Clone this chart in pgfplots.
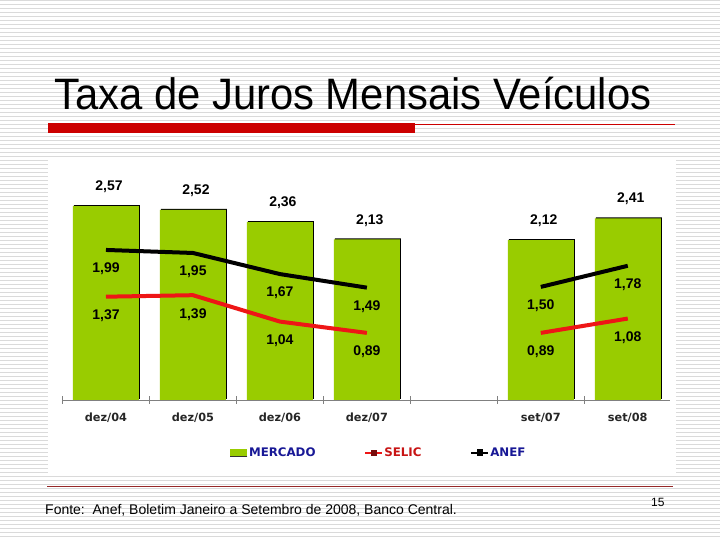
\documentclass[border=0pt]{standalone}
\usepackage{fontspec}
\setmainfont{Liberation Sans}
\newfontfamily\djv{DejaVu Sans}
\usepackage{pgfplots}
\pgfplotsset{compat=1.18}

\definecolor{stripe}{RGB}{218,218,218}
\definecolor{barg}{RGB}{153,204,0}
\definecolor{selic}{RGB}{238,22,22}
\definecolor{titlered}{RGB}{204,0,0}
\definecolor{rule}{RGB}{150,40,40}
\definecolor{legblue}{RGB}{24,24,150}
\definecolor{legred}{RGB}{200,20,20}
\definecolor{axgray}{RGB}{128,128,128}

\newcommand\lab{\fontsize{14}{15}\selectfont\bfseries}

\begin{document}
\begin{tikzpicture}
\useasboundingbox (0pt,0pt) rectangle (720pt,540pt);
\clip (0pt,0pt) rectangle (720pt,540pt);
% slide background
\fill[white] (0pt,0pt) rectangle (720pt,540pt);
\foreach \k in {0,...,134}
  \draw[stripe, line width=1pt] (0pt,539.5pt-4pt*\k) -- (720pt,539.5pt-4pt*\k);
\fill[white] (48pt,64pt) rectangle (676pt,383pt);

% title and rules
\node[anchor=base west, inner sep=0pt, xscale=0.95] at (54pt,430pt)
  {\fontsize{44}{50}\selectfont Taxa de Juros Mensais Veículos};
\fill[titlered] (48pt,407pt) rectangle (415pt,417pt);
\draw[titlered, line width=0.8pt] (415pt,416pt) -- (675pt,416pt);
\draw[rule, line width=0.8pt] (47pt,53.5pt) -- (673pt,53.5pt);
\node[anchor=base west, inner sep=0pt] at (45pt,25pt)
  {\fontsize{14}{16}\selectfont Fonte:\ \ Anef, Boletim Janeiro a Setembro de 2008, Banco Central.};
\node[anchor=base west, inner sep=0pt] at (651pt,33pt) {\fontsize{12}{14}\selectfont 15};

\begin{axis}[
    at={(62.5pt,140pt)}, anchor=south west,
    scale only axis, width=607pt, height=226.2pt,
    xmin=-0.5, xmax=6.48, ymin=0, ymax=3,
    axis x line*=bottom, axis y line=none,
    axis line style={axgray, line width=0.8pt},
    xtick={0,1,2,3,5,6},
    xticklabels={dez/04,dez/05,dez/06,dez/07,set/07,set/08},
    minor xtick={-0.5,0.5,1.5,2.5,3.5,4.5,5.5},
    major tick length=0pt, minor tick length=8pt,
    tick align=center,
    minor tick style={axgray, line width=0.8pt},
    xticklabel style={font=\djv\bfseries\fontsize{11.3}{13}\selectfont, text=black!85,
        anchor=base, inner sep=0pt, yshift=-22pt},
    clip=false,
    unbounded coords=jump,
    legend style={at={(0.52,-0.234)}, anchor=center, draw=none, fill=none,
        font=\djv\bfseries\fontsize{11.8}{13}\selectfont,
        /tikz/every even column/.append style={column sep=48pt},
        nodes={inner sep=1pt}},
    legend columns=-1,
]
% shadow of the bars
\addplot[ybar, bar width=66pt, bar shift=1pt, fill=black, draw=none, yshift=1pt, forget plot]
  coordinates {(0,2.57) (1,2.52) (2,2.36) (3,2.13) (5,2.12) (6,2.41)};
% MERCADO
\addplot[ybar, bar width=66pt, bar shift=0pt, fill=barg, draw=none,
    point meta=explicit symbolic, nodes near coords,
    every node near coord/.append style={font=\lab, inner sep=0pt, yshift=13pt, xshift=3pt},
    legend image code/.code={\fill[barg] (0pt,-3.5pt) rectangle (17pt,3.5pt);
      \draw[black!80, line width=1.2pt] (0pt,-3.2pt) -- (17pt,-3.2pt);}]
  coordinates {(0,2.57)[2,57] (1,2.52)[2,52] (2,2.36)[2,36] (3,2.13)[2,13] (5,2.12)[2,12] (6,2.41)[2,41]};
\addlegendentry{\textcolor{legblue}{MERCADO}}
% SELIC
\addplot[selic, line width=4pt, mark=none,
    point meta=explicit symbolic, nodes near coords,
    every node near coord/.append style={font=\lab, text=black, inner sep=0pt, yshift=-27pt},
    legend image code/.code={\draw[selic, line width=1.8pt] (0pt,0pt) -- (17pt,0pt);
      \fill[legred!60!black] (7.5pt,-1.2pt) rectangle (9.5pt,1.2pt);}]
  coordinates {(0,1.37)[1,37] (1,1.39)[1,39] (2,1.04)[1,04] (3,0.89)[0,89] (4,nan)[] (5,0.89)[0,89] (6,1.08)[1,08]};
\addlegendentry{\textcolor{legred}{SELIC}}
% ANEF
\addplot[black, line width=4pt, mark=none,
    point meta=explicit symbolic, nodes near coords,
    every node near coord/.append style={font=\lab, text=black, inner sep=0pt, yshift=-27pt},
    legend image code/.code={\draw[black, line width=1.8pt] (0pt,0pt) -- (17pt,0pt);
      \fill[black] (7.5pt,-1.2pt) rectangle (9.5pt,1.8pt);}]
  coordinates {(0,1.99)[1,99] (1,1.95)[1,95] (2,1.67)[1,67] (3,1.49)[1,49] (4,nan)[] (5,1.50)[1,50] (6,1.78)[1,78]};
\addlegendentry{\textcolor{legblue}{ANEF}}
\end{axis}
\end{tikzpicture}
\end{document}
